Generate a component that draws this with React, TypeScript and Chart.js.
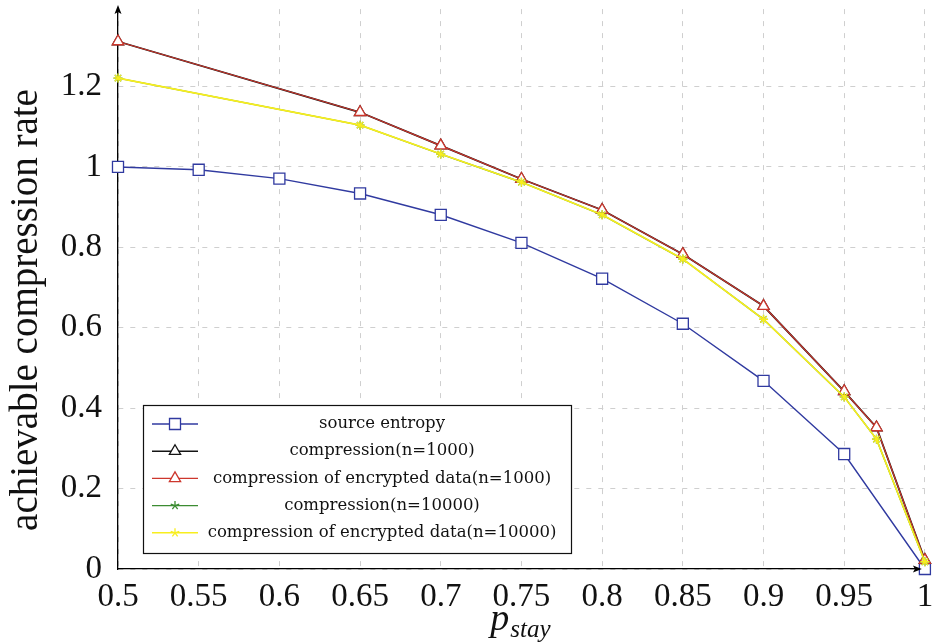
import { useEffect, useRef } from "react";
import { Chart, registerables } from "chart.js";

Chart.register(...registerables);

// ---- data ----
const pStay = [0.5, 0.55, 0.6, 0.65, 0.7, 0.75, 0.8, 0.85, 0.9, 0.95, 1];
const sourceEntropy = [1.0, 0.993, 0.971, 0.934, 0.881, 0.811, 0.722, 0.61, 0.468, 0.286, 0.0];

const pComp = [0.5, 0.65, 0.7, 0.75, 0.8, 0.85, 0.9, 0.95, 0.97, 1];
const comp1000 = [1.312, 1.136, 1.053, 0.97, 0.893, 0.783, 0.654, 0.442, 0.352, 0.022];
const enc1000 = [1.312, 1.136, 1.053, 0.97, 0.893, 0.783, 0.654, 0.442, 0.352, 0.022];
const comp10000 = [1.221, 1.104, 1.032, 0.962, 0.881, 0.771, 0.621, 0.428, 0.323, 0.018];
const enc10000 = [1.221, 1.104, 1.032, 0.962, 0.881, 0.771, 0.621, 0.428, 0.323, 0.018];

const seriesLabels = [
  "source entropy",
  "compression(n=1000)",
  "compression of encrypted data(n=1000)",
  "compression(n=10000)",
  "compression of encrypted data(n=10000)",
];

const xTitleMain = "p";
const xTitleSub = "stay";
const yTitle = "achievable compression rate";

const xTicksStep = 0.05;
const yTicksStep = 0.2;

const SERIF = '"Liberation Serif", "DejaVu Serif", serif';
const LEGEND_FONT = '"DejaVu Serif", "Liberation Serif", serif';

const BLUE = "rgb(48,58,160)";
const BLACK = "rgb(20,20,20)";
const RED = "rgb(205,55,45)";
const GREEN = "rgb(60,140,50)";
const YELLOW = "rgb(248,238,30)";

const fmt = (v: number) => String(parseFloat(Number(v).toFixed(2)));
const toPts = (xs: number[], ys: number[]) => xs.map((x, i) => ({ x, y: ys[i] }));

function drawMarker(ctx: CanvasRenderingContext2D, style: string, x: number, y: number, color: string) {
  ctx.save();
  ctx.strokeStyle = color;
  ctx.lineWidth = 1.3;
  ctx.fillStyle = "#fff";
  ctx.setLineDash([]);
  if (style === "rect") {
    ctx.beginPath();
    ctx.rect(x - 5.5, y - 5.5, 11, 11);
    ctx.fill();
    ctx.stroke();
  } else if (style === "triangle") {
    const r = 6.5;
    ctx.beginPath();
    ctx.moveTo(x, y - r);
    ctx.lineTo(x + r * 0.866, y + r * 0.5);
    ctx.lineTo(x - r * 0.866, y + r * 0.5);
    ctx.closePath();
    ctx.fill();
    ctx.stroke();
  } else if (style === "star") {
    const r = 4.5;
    ctx.beginPath();
    for (let k = 0; k < 5; k++) {
      const a = -Math.PI / 2 + (k * 2 * Math.PI) / 5;
      ctx.moveTo(x, y);
      ctx.lineTo(x + r * Math.cos(a), y + r * Math.sin(a));
    }
    ctx.stroke();
  }
  ctx.restore();
}

const decorPlugin = {
  id: "decor",
  afterDatasetsDraw(chart: any) {
    const { ctx } = chart;
    // legend box
    const bx = 143, by = 405, bw = 428, bh = 148;
    ctx.save();
    ctx.fillStyle = "#fff";
    ctx.fillRect(bx, by, bw, bh);
    ctx.strokeStyle = "#111";
    ctx.lineWidth = 1.2;
    ctx.strokeRect(bx + 0.5, by + 0.5, bw, bh);
    const rowY0 = 424, rowGap = 27.2;
    chart.data.datasets.forEach((ds: any, i: number) => {
      const yy = rowY0 + i * rowGap;
      ctx.strokeStyle = ds.borderColor;
      ctx.lineWidth = 1.4;
      ctx.beginPath();
      ctx.moveTo(152, yy);
      ctx.lineTo(198, yy);
      ctx.stroke();
      drawMarker(ctx, ds.pointStyle, 175, yy, ds.borderColor);
      ctx.fillStyle = "#111";
      ctx.font = `16.5px ${LEGEND_FONT}`;
      ctx.textAlign = "center";
      ctx.textBaseline = "middle";
      ctx.fillText(ds.label, 382, yy);
    });
    ctx.restore();
  },
  afterDraw(chart: any) {
    const { ctx, chartArea: a } = chart;
    ctx.save();
    ctx.fillStyle = "#000";
    // y-axis arrow
    ctx.beginPath();
    ctx.moveTo(a.left, a.top - 4);
    ctx.lineTo(a.left + 3.5, a.top + 5);
    ctx.lineTo(a.left, a.top + 3);
    ctx.lineTo(a.left - 3.5, a.top + 5);
    ctx.closePath();
    ctx.fill();
    // x-axis arrow
    const tx = a.right - 3;
    ctx.beginPath();
    ctx.moveTo(tx, a.bottom);
    ctx.lineTo(tx - 9, a.bottom - 3.5);
    ctx.lineTo(tx - 7, a.bottom);
    ctx.lineTo(tx - 9, a.bottom + 3.5);
    ctx.closePath();
    ctx.fill();

    // x title: p_stay
    ctx.fillStyle = "#111";
    ctx.textAlign = "left";
    ctx.textBaseline = "alphabetic";
    ctx.font = `italic 38px ${SERIF}`;
    const pw = ctx.measureText(xTitleMain).width;
    ctx.font = `italic 25px ${SERIF}`;
    const sw = ctx.measureText(xTitleSub).width;
    const startX = 520 - (pw + sw) / 2;
    ctx.font = `italic 38px ${SERIF}`;
    ctx.fillText(xTitleMain, startX, 630);
    ctx.font = `italic 25px ${SERIF}`;
    ctx.fillText(xTitleSub, startX + pw + 1, 637);

    // y title
    ctx.translate(27, 310);
    ctx.rotate(-Math.PI / 2);
    ctx.textAlign = "center";
    ctx.textBaseline = "middle";
    ctx.font = `39px ${SERIF}`;
    ctx.fillText(yTitle, 0, 0);
    ctx.restore();
  },
};

export default function App() {
  const ref = useRef<HTMLCanvasElement | null>(null);

  useEffect(() => {
    const canvas = ref.current;
    if (!canvas) return;
    const common = { fill: false, tension: 0, clip: false as any, pointBorderWidth: 1.3, pointBackgroundColor: "#fff" };
    const chart = new Chart(canvas, {
      type: "line",
      data: {
        datasets: [
          {
            ...common,
            label: seriesLabels[0],
            data: toPts(pStay, sourceEntropy),
            borderColor: BLUE,
            pointBorderColor: BLUE,
            borderWidth: 1.4,
            pointStyle: "rect",
            pointRadius: 7.8,
            order: 4,
          },
          {
            ...common,
            label: seriesLabels[1],
            data: toPts(pComp, comp1000),
            borderColor: BLACK,
            pointBorderColor: BLACK,
            borderWidth: 1.8,
            pointStyle: "triangle",
            pointRadius: 6.5,
            order: 3,
          },
          {
            ...common,
            label: seriesLabels[2],
            data: toPts(pComp, enc1000),
            borderColor: RED,
            pointBorderColor: RED,
            borderWidth: 1.2,
            pointStyle: "triangle",
            pointRadius: 6.5,
            order: 2,
          },
          {
            ...common,
            label: seriesLabels[3],
            data: toPts(pComp, comp10000),
            borderColor: GREEN,
            pointBorderColor: GREEN,
            borderWidth: 1.4,
            pointStyle: "star",
            pointRadius: 4.5,
            order: 1,
          },
          {
            ...common,
            label: seriesLabels[4],
            data: toPts(pComp, enc10000),
            borderColor: YELLOW,
            pointBorderColor: YELLOW,
            borderWidth: 1.6,
            pointStyle: "star",
            pointRadius: 4.5,
            order: 0,
          },
        ] as any,
      },
      options: {
        animation: false,
        responsive: false,
        maintainAspectRatio: false,
        layout: { padding: { left: 8, top: 5, right: 7, bottom: 0 } },
        plugins: {
          legend: { display: false },
          tooltip: { enabled: false },
          title: { display: false },
        },
        scales: {
          x: {
            type: "linear",
            min: 0.5,
            max: 1,
            grid: { color: "#cfcfcf", lineWidth: 1, drawTicks: false },
            border: { display: true, color: "#000", width: 1.3, dash: [5, 7] },
            ticks: {
              stepSize: xTicksStep,
              autoSkip: false,
              maxRotation: 0,
              padding: 9,
              color: "#111",
              font: { family: SERIF, size: 33 },
              callback: (v: any) => fmt(v),
            },
            afterFit: (s: any) => {
              s.height = 75;
              s.paddingLeft = 0;
              s.paddingRight = 0;
            },
          },
          y: {
            type: "linear",
            min: 0,
            max: 1.3926,
            grid: { color: "#cfcfcf", lineWidth: 1, drawTicks: false },
            border: { display: true, color: "#000", width: 1.3, dash: [5, 7] },
            afterBuildTicks: (s: any) => {
              s.ticks = s.ticks.filter(
                (t: any) => Math.abs(t.value / yTicksStep - Math.round(t.value / yTicksStep)) < 1e-6
              );
            },
            ticks: {
              stepSize: yTicksStep,
              autoSkip: false,
              padding: 16,
              color: "#111",
              font: { family: SERIF, size: 33 },
              callback: (v: any) => fmt(v),
            },
            afterFit: (s: any) => {
              s.width = 110;
              s.paddingTop = 0;
              s.paddingBottom = 0;
            },
          },
        },
      } as any,
      plugins: [decorPlugin],
    });
    return () => chart.destroy();
  }, []);

  return (
    <div style={{ position: "fixed", left: 0, top: 0, width: 934, height: 644, background: "#fff" }}>
      <canvas ref={ref} width={934} height={644} style={{ display: "block", width: 934, height: 644 }} />
    </div>
  );
}
